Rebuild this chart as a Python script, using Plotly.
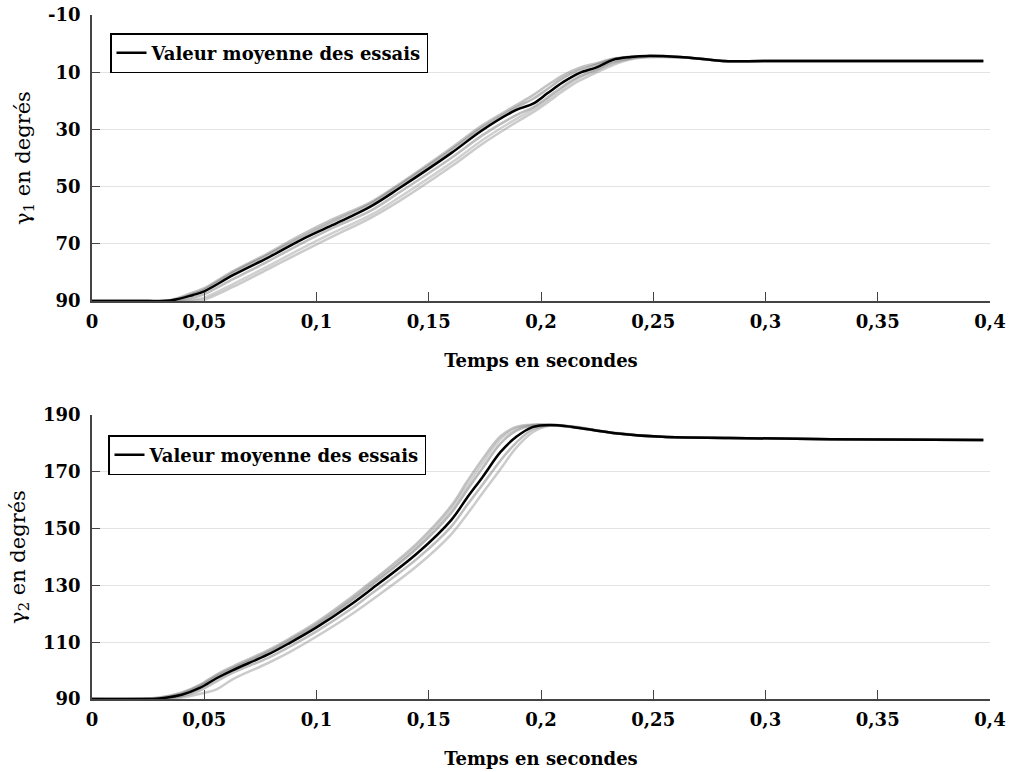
import plotly.graph_objects as go

# ---------------- data ----------------
# Top plot: gamma_1 (degrees) vs time (s)
t1 = [0, 0.02, 0.035, 0.045, 0.05, 0.063, 0.078, 0.093, 0.107, 0.124, 0.137, 0.16,
      0.174, 0.189, 0.1965, 0.203, 0.21, 0.217, 0.225, 0.232, 0.24, 0.247, 0.262,
      0.272, 0.281, 0.3, 0.35, 0.397]
mean1 = [90, 90, 89.8, 87.9, 86.6, 80.9, 75.0, 68.7, 63.5, 57.0, 50.5, 38.3,
         30.2, 23.2, 21.0, 17.3, 13.4, 10.3, 8.2, 5.7, 4.7, 4.3, 4.7,
         5.4, 6.1, 6.1, 6.1, 6.1]
trial1_a = [90, 90, 90, 89.9, 89.5, 85, 79, 73, 67.5, 61, 55, 43,
            35, 27.5, 24, 20.5, 16.5, 13, 10, 7.5, 5.5, 4.8, 4.8,
            5.4, 6.1, 6.1, 6.1, 6.1]
trial1_b = [90, 90, 89.6, 87, 85.5, 79.5, 73.5, 67, 61.5, 55.5, 49, 36.5,
            28.5, 21.5, 18, 14.5, 11, 8.5, 6.8, 5.3, 4.6, 4.4, 4.7,
            5.4, 6.1, 6.1, 6.1, 6.1]
trial1_c = [90, 90, 89.7, 87.5, 86, 80, 74, 67.8, 62.3, 56, 49.5, 37.2,
            29.3, 22.3, 19.3, 15.8, 12, 9.3, 7.3, 5.5, 4.6, 4.4, 4.7,
            5.4, 6.1, 6.1, 6.1, 6.1]
trial1_d = [90, 90, 89.9, 88.8, 87.6, 82.3, 76.3, 70, 64.5, 58.5, 52, 40,
            32, 25, 22.3, 18.8, 14.8, 11.5, 9, 6.5, 5.1, 4.6, 4.8,
            5.4, 6.1, 6.1, 6.1, 6.1]
trial1_e = [90, 90, 90, 89.5, 88.8, 84, 78, 71.8, 66.3, 60, 53.7, 41.7,
            33.7, 26.3, 23, 19.5, 15.5, 12, 9.3, 6.8, 5.2, 4.7, 4.8,
            5.4, 6.1, 6.1, 6.1, 6.1]
trials1 = [trial1_a, trial1_b, trial1_c, trial1_d, trial1_e]

# Bottom plot: gamma_2 (degrees) vs time (s)
t2 = [0, 0.02, 0.03, 0.04, 0.048, 0.0557, 0.0628, 0.078, 0.088, 0.1, 0.115, 0.124,
      0.145, 0.16, 0.167, 0.174, 0.182, 0.189, 0.1965, 0.204, 0.214, 0.232, 0.254,
      0.284, 0.329, 0.397]
mean2 = [90, 90, 90.2, 91.5, 93.9, 97.4, 100.2, 105.5, 109.7, 115.2, 123.1, 128.4,
         141.4, 153, 160.8, 168.2, 177, 182.3, 185.8, 186.5, 185.8, 183.7, 182.3,
         181.9, 181.5, 181.2]
trial2_a = [90, 90, 90, 90.5, 91.8, 93.5, 97, 102.5, 106.5, 112, 119.5, 124.5,
            137, 148, 155, 162.5, 171, 178.5, 184, 186.3, 186, 183.8, 182.3,
            181.9, 181.5, 181.2]
trial2_b = [90, 90, 90.5, 92.3, 95, 98.7, 101.5, 107, 111.3, 117, 125.5, 131,
            145, 158, 166.5, 174.5, 182.5, 185.8, 186.6, 186.4, 185.7, 183.7, 182.3,
            181.9, 181.5, 181.2]
trial2_c = [90, 90, 90.3, 91.9, 94.5, 98, 100.8, 106.2, 110.5, 116, 124.3, 129.7,
            143.2, 155.5, 163.5, 171.3, 180, 184.5, 186.3, 186.5, 185.8, 183.7, 182.3,
            181.9, 181.5, 181.2]
trial2_d = [90, 90, 90.1, 91, 93, 96.3, 99.3, 104.3, 108.4, 113.8, 121.5, 126.8,
            139.5, 150.7, 158.2, 165.5, 174, 180.3, 185, 186.4, 185.9, 183.7, 182.3,
            181.9, 181.5, 181.2]
trial2_e = [90, 90, 90.4, 92, 94.8, 98.3, 101, 106.5, 110.8, 116.4, 124.8, 130.3,
            144, 156.8, 165, 173, 181.5, 185.3, 186.5, 186.5, 185.8, 183.7, 182.3,
            181.9, 181.5, 181.2]
trials2 = [trial2_a, trial2_b, trial2_c, trial2_d, trial2_e]

x_tickvals = [0, 0.05, 0.1, 0.15, 0.2, 0.25, 0.3, 0.35, 0.4]
x_ticktext = ["0", "0,05", "0,1", "0,15", "0,2", "0,25", "0,3", "0,35", "0,4"]
y1_tickvals = [-10, 10, 30, 50, 70, 90]
y1_ticktext = ["-10", "10", "30", "50", "70", "90"]
y2_tickvals = [90, 110, 130, 150, 170, 190]
y2_ticktext = ["90", "110", "130", "150", "170", "190"]

legend_label = "Valeur moyenne des essais"
x_title = "Temps en secondes"
y1_title = "γ<sub>1</sub> en degrés"
y2_title = "γ<sub>2</sub> en degrés"

# ---------------- figure ----------------
FONT = "DejaVu Serif"
trial_colors = ["rgba(140,140,140,0.45)", "rgba(120,120,120,0.45)",
                "rgba(100,100,100,0.45)", "rgba(110,110,110,0.45)",
                "rgba(150,150,150,0.45)"]

fig = go.Figure()

for i, tr in enumerate(trials1):
    fig.add_trace(go.Scatter(x=t1, y=tr, mode="lines", showlegend=False,
                             line=dict(color=trial_colors[i], width=2.5, shape="spline"),
                             xaxis="x", yaxis="y", hoverinfo="skip"))
fig.add_trace(go.Scatter(x=t1, y=mean1, mode="lines", name=legend_label,
                         line=dict(color="black", width=2.5, shape="spline"),
                         xaxis="x", yaxis="y", legend="legend"))

for i, tr in enumerate(trials2):
    fig.add_trace(go.Scatter(x=t2, y=tr, mode="lines", showlegend=False,
                             line=dict(color=trial_colors[i], width=2.5, shape="spline"),
                             xaxis="x2", yaxis="y2", hoverinfo="skip"))
fig.add_trace(go.Scatter(x=t2, y=mean2, mode="lines", name=legend_label,
                         line=dict(color="black", width=2.5, shape="spline"),
                         xaxis="x2", yaxis="y2", legend="legend2"))

H = 772.0
tick_font = dict(family=FONT, size=18, color="black", weight="bold")
xaxis_common = dict(range=[0, 0.4], tickvals=x_tickvals, ticktext=x_ticktext,
                    ticks="inside", ticklen=9, tickwidth=1.2, tickcolor="#444",
                    showline=True, linecolor="#444", linewidth=1.5,
                    showgrid=False, zeroline=False, tickfont=tick_font,
                    ticklabelstandoff=4, automargin=False,
                    title=dict(text=x_title, standoff=23,
                               font=dict(family=FONT, size=18, color="black", weight="bold")))
yaxis_common = dict(ticks="inside", ticklen=8, tickwidth=1.2, tickcolor="#444",
                    showline=True, linecolor="#444", linewidth=1.5,
                    showgrid=True, gridcolor="#e3e3e3", gridwidth=1,
                    zeroline=False, tickfont=tick_font, ticklabelstandoff=6,
                    automargin=False)

fig.update_layout(
    width=1011, height=772,
    margin=dict(l=92, r=21, t=0, b=0),
    paper_bgcolor="white", plot_bgcolor="white",
    xaxis=dict(domain=[0, 1], anchor="y", **xaxis_common),
    xaxis2=dict(domain=[0, 1], anchor="y2", **xaxis_common),
    yaxis=dict(domain=[1 - 301 / H, 1 - 15 / H], anchor="x", range=[90, -10],
               tickvals=y1_tickvals, ticktext=y1_ticktext,
               title=dict(text=y1_title, standoff=12,
                          font=dict(family=FONT, size=21, color="black")),
               **yaxis_common),
    yaxis2=dict(domain=[1 - 699 / H, 1 - 415 / H], anchor="x2", range=[90, 190],
                tickvals=y2_tickvals, ticktext=y2_ticktext,
                title=dict(text=y2_title, standoff=12,
                           font=dict(family=FONT, size=21, color="black")),
                **yaxis_common),
    legend=dict(x=(110 - 92) / 898, y=1 - 33 / H, xanchor="left", yanchor="top",
                bgcolor="white", bordercolor="black", borderwidth=1.5,
                font=dict(family=FONT, size=18, color="black", weight="bold")),
    legend2=dict(x=(108 - 92) / 898, y=1 - 435 / H, xanchor="left", yanchor="top",
                 bgcolor="white", bordercolor="black", borderwidth=1.5,
                 font=dict(family=FONT, size=18, color="black", weight="bold")),
)

fig.write_html("out.html")
